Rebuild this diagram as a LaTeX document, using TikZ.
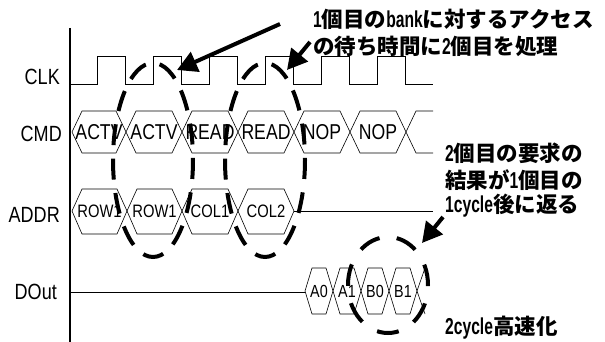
\documentclass[tikz,border=0pt]{standalone}
\usepackage{fontspec}
\newfontfamily\labfont[FakeStretch=0.82]{Liberation Sans}
\newfontfamily\latfont[FakeStretch=0.68]{Liberation Sans}
\newfontfamily\jpfont{Noto Sans CJK JP}
\newcommand{\lt}[1]{{\latfont\bfseries\fontsize{23}{23}\selectfont #1}}
\usetikzlibrary{arrows.meta}
\begin{document}
\begin{tikzpicture}[x=1pt,y=-1pt,
  axisline/.style={line width=1.1pt},
  wave/.style={line width=0.8pt},
  hexline/.style={line width=0.6pt},
  ringA/.style={line width=4pt, dash pattern=on 21pt off 13.5pt, dash phase=27.75pt},
  ringB/.style={line width=4pt, dash pattern=on 22pt off 17.6pt, dash phase=30.8pt},
  callout/.style={line width=4pt, -{Triangle[length=20pt,width=21pt]}},
  siglabel/.style={font=\labfont\fontsize{22}{22}\selectfont, anchor=east, inner sep=0pt},
  cmdtext/.style={font=\labfont\fontsize{21.5}{21.5}\selectfont, inner sep=0pt},
  addrtext/.style={font=\labfont\fontsize{18}{18}\selectfont, inner sep=0pt},
  douttext/.style={font=\labfont\fontsize{17.5}{17.5}\selectfont, inner sep=0pt},
  note/.style={font=\jpfont\bfseries\fontsize{21.5}{21.5}\selectfont, anchor=west, inner sep=0pt},
]
\useasboundingbox (0,0) rectangle (605,342);

% axis
\coordinate (axtop) at (70,28);
\coordinate (axbot) at (70,342);
\draw[axisline] (axtop) -- (axbot);

% signal labels
\node[siglabel] (lclk) at (60,77) {CLK};
\node[siglabel] (lcmd) at (62,134) {CMD};
\node[siglabel] (laddr) at (60,215) {ADDR};
\node[siglabel] (ldout) at (57,292) {DOut};

% clock
\draw[wave] (70,84) -- (97,84) -- (97,56) -- (125,56) -- (125,84)
  -- (153,84) -- (153,56) -- (181,56) -- (181,84)
  -- (209,84) -- (209,56) -- (237,56) -- (237,84)
  -- (265,84) -- (265,56) -- (293,56) -- (293,84)
  -- (321,84) -- (321,56) -- (349,56) -- (349,84)
  -- (377,84) -- (377,56) -- (405,56) -- (405,84) -- (433,84);

% CMD
\foreach \a/\b/\t [count=\i] in {72/126/ACTV,126/182/ACTV,182/238/READ,238/294/READ,294/350/NOP,350/406/NOP}{
  \draw[hexline] (\a,132) -- (\a+10,111) -- (\b-10,111) -- (\b,132) -- (\b-10,153) -- (\a+10,153) -- cycle;
  \node[cmdtext] (cmd\i) at ({(\a+\b)/2},132) {\t};
}
\draw[hexline] (433,111) -- (416,111) -- (406,132) -- (416,153) -- (433,153);

% ADDR
\foreach \a/\b/\t [count=\i] in {72/127/ROW1,127/182/ROW1,182/238/COL1,238/294/COL2}{
  \draw[hexline] (\a,211) -- (\a+10,189) -- (\b-10,189) -- (\b,211) -- (\b-10,234) -- (\a+10,234) -- cycle;
  \node[addrtext] (addr\i) at ({(\a+\b)/2},211) {\t};
}
\draw[hexline] (294,211) -- (433,211);

% DOut
\draw[hexline] (70,292) -- (305,292);
\foreach \a/\b/\t [count=\i] in {305/333/A0,333/361/A1,361/389/B0,389/417/B1}{
  \draw[hexline] (\a,291) -- (\a+7,268) -- (\b-7,268) -- (\b,291) -- (\b-7,314) -- (\a+7,314) -- cycle;
  \node[douttext] (dout\i) at ({(\a+\b)/2},291) {\t};
}
\draw[hexline] (425,268) -- (417,291) -- (425,314);

% dashed rings
\draw[ringA] (153,63) arc[start angle=-90, end angle=270, x radius=40, y radius=97];
\draw[ringA] (265,63) arc[start angle=-90, end angle=270, x radius=40, y radius=97];
\draw[ringB] (388,237) arc[start angle=-90, end angle=270, x radius=40, y radius=48];

% notes
\node[note] (n1) at (313,19) {\lt{1}個目の\lt{bank}に対するアクセス};
\node[note] (n2) at (313,46) {の待ち時間に\lt{2}個目を処理};
\node[note] (n3) at (445,153) {\lt{2}個目の要求の};
\node[note] (n4) at (445,180) {結果が\lt{1}個目の};
\node[note] (n5) at (445,206) {\lt{1cycle}後に返る};
\node[note] (n6) at (445,328) {\lt{2cycle}高速化};

% arrows
\coordinate (t1) at (280,24);
\coordinate (h1) at (177,70);
\coordinate (t2) at (310,42);
\coordinate (h2) at (287,70);
\coordinate (t3) at (443,217);
\coordinate (h3) at (422,243);
\draw[callout] (t1) -- (h1);
\draw[callout] (t2) -- (h2);
\draw[callout] (t3) -- (h3);
\end{tikzpicture}
\end{document}
